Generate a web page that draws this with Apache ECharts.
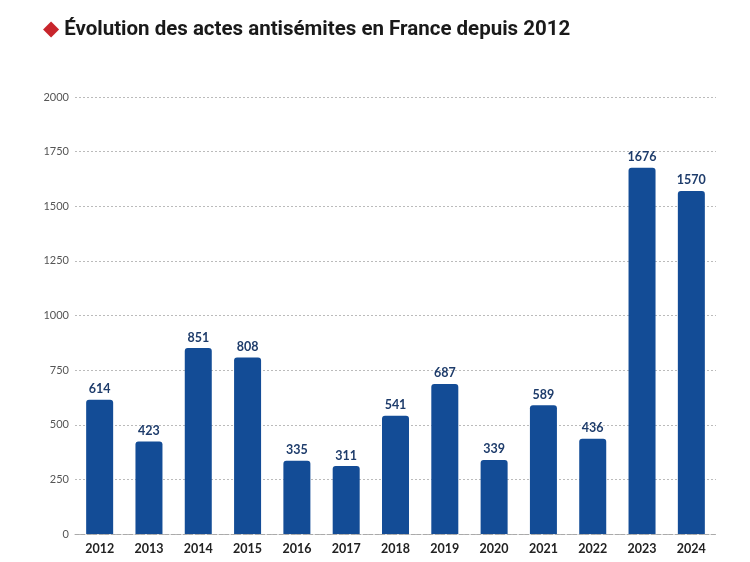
<!DOCTYPE html>
<html><head><meta charset="utf-8">
<script src="https://cdn.jsdelivr.net/npm/echarts@6/dist/echarts.min.js"></script>
<style>html,body{margin:0;padding:0;background:#fff}#c{width:750px;height:562px}</style>
</head><body><div id="c"></div>
<script>
const years = ['2012','2013','2014','2015','2016','2017','2018','2019','2020','2021','2022','2023','2024'];
const actes = [614, 423, 851, 808, 335, 311, 541, 687, 339, 589, 436, 1676, 1570];
const yTicks = [0, 250, 500, 750, 1000, 1250, 1500, 1750, 2000];
const titleText = 'Évolution des actes antisémites en France depuis 2012';

const chart = echarts.init(document.getElementById('c'));
chart.setOption({
  animation: false,
  title: {
    text: '{d|◆} {t|' + titleText + '}',
    left: 38, top: 14,
    textStyle: {
      rich: {
        d: { color: '#c8252c', fontSize: 21, fontFamily: 'DejaVu Sans' },
        t: { color: '#1a1a1a', fontSize: 20.5, fontWeight: 'bold', fontFamily: 'Roboto, sans-serif' }
      }
    }
  },
  grid: { left: 75, right: 34, top: 97, bottom: 28, containLabel: false },
  xAxis: {
    type: 'category', data: years,
    axisLine: { show: true, lineStyle: { color: '#aaa', type: 'dashed' } },
    axisTick: { show: false },
    axisLabel: { color: '#222', fontSize: 12.5, fontWeight: 'bold', fontFamily: 'Lato, sans-serif', margin: 8 }
  },
  yAxis: {
    type: 'value', min: yTicks[0], max: yTicks[yTicks.length - 1], interval: 250,
    axisLine: { show: false }, axisTick: { show: false },
    axisLabel: { color: '#555', fontSize: 11, fontFamily: 'Lato, sans-serif', margin: 6, formatter: v => String(v) },
    splitLine: { lineStyle: { color: '#bbb', type: [2, 2], width: 1 } }
  },
  series: [{
    type: 'bar', data: actes, barWidth: 27,
    itemStyle: { color: '#134c96', borderRadius: [3, 3, 0, 0] },
    label: { show: true, position: 'top', distance: 4, color: '#1e3c6b', fontSize: 12.5, fontWeight: 'bold', fontFamily: 'Lato, sans-serif' }
  }]
});
</script></body></html>
